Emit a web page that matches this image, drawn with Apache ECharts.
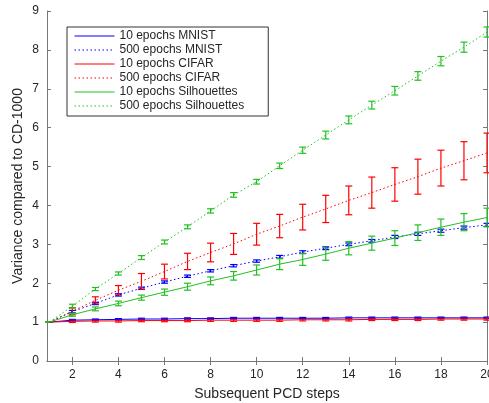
<!DOCTYPE html>
<html>
<head>
<meta charset="utf-8">
<script src="https://cdn.jsdelivr.net/npm/echarts@6/dist/echarts.min.js"></script>
<style>
  html, body { margin: 0; padding: 0; background: #fff; }
  #chart { width: 489px; height: 403px; }
</style>
</head>
<body>
<div id="chart"></div>
<script>
// PCD steps on the x axis
const steps = [1, 2, 3, 4, 5, 6, 7, 8, 9, 10, 11, 12, 13, 14, 15, 16, 17, 18, 19, 20];
const xTicks = [2, 4, 6, 8, 10, 12, 14, 16, 18, 20];

// means and error bar half-lengths
const mnist10 = [1.00, 1.05, 1.06, 1.07, 1.08, 1.08, 1.09, 1.09, 1.10, 1.10, 1.10, 1.10, 1.10, 1.11, 1.11, 1.11, 1.11, 1.11, 1.11, 1.11];
const mnist10Err = [0, 0.02, 0.02, 0.02, 0.02, 0.02, 0.02, 0.02, 0.02, 0.02, 0.02, 0.02, 0.02, 0.02, 0.02, 0.02, 0.02, 0.02, 0.02, 0.02];
const mnist500 = [1.00, 1.27, 1.48, 1.70, 1.87, 2.03, 2.18, 2.32, 2.45, 2.57, 2.68, 2.80, 2.90, 3.00, 3.09, 3.19, 3.27, 3.35, 3.43, 3.50];
const mnist500Err = [0, 0.03, 0.03, 0.03, 0.03, 0.03, 0.03, 0.03, 0.03, 0.03, 0.035, 0.035, 0.035, 0.035, 0.035, 0.04, 0.04, 0.04, 0.04, 0.04];
const cifar10 = [1.00, 1.02, 1.03, 1.03, 1.04, 1.04, 1.04, 1.05, 1.05, 1.05, 1.05, 1.06, 1.06, 1.06, 1.07, 1.07, 1.07, 1.08, 1.08, 1.08];
const cifar10Err = [0, 0.03, 0.03, 0.03, 0.03, 0.03, 0.03, 0.03, 0.03, 0.03, 0.03, 0.03, 0.03, 0.03, 0.03, 0.03, 0.03, 0.03, 0.03, 0.03];
const cifar500 = [1.00, 1.28, 1.56, 1.82, 2.05, 2.30, 2.56, 2.79, 3.01, 3.26, 3.47, 3.70, 3.91, 4.13, 4.33, 4.54, 4.74, 4.96, 5.15, 5.35];
const cifar500Err = [0, 0.09, 0.09, 0.12, 0.2, 0.19, 0.21, 0.24, 0.27, 0.28, 0.3, 0.33, 0.35, 0.37, 0.4, 0.43, 0.45, 0.46, 0.49, 0.51];
const silh10 = [1.00, 1.19, 1.34, 1.48, 1.63, 1.77, 1.91, 2.06, 2.19, 2.34, 2.49, 2.61, 2.75, 2.90, 3.03, 3.16, 3.30, 3.44, 3.57, 3.69];
const silh10Err = [0, 0.04, 0.05, 0.06, 0.065, 0.08, 0.09, 0.1, 0.11, 0.13, 0.14, 0.15, 0.16, 0.17, 0.18, 0.19, 0.2, 0.21, 0.22, 0.24];
const silh500 = [1.00, 1.41, 1.85, 2.25, 2.66, 3.06, 3.45, 3.86, 4.27, 4.61, 5.02, 5.42, 5.81, 6.20, 6.58, 6.95, 7.33, 7.71, 8.07, 8.46];
const silh500Err = [0, 0.05, 0.04, 0.04, 0.05, 0.05, 0.05, 0.055, 0.06, 0.06, 0.07, 0.08, 0.1, 0.1, 0.1, 0.11, 0.11, 0.12, 0.13, 0.13];

const names = ["10 epochs MNIST", "500 epochs MNIST", "10 epochs CIFAR", "500 epochs CIFAR", "10 epochs Silhouettes", "500 epochs Silhouettes"];

const BLUE = "#0000ff", RED = "#ff0000", GREEN = "#22c022";
const AXIS = "#777", TEXT = "#262626";

function lineSeries(name, vals, color, dotted) {
    return {
        name: name,
        type: "line",
        data: steps.map((s, i) => [s, vals[i]]),
        symbol: "none",
        lineStyle: { color: color, width: 1, type: dotted ? [1.5, 2.5] : "solid" },
        itemStyle: { color: color },
        animation: false
    };
}

// error bars: vertical stem plus caps, drawn through the axes
function errSeries(name, vals, errs, color) {
    return {
        name: name + " err",
        type: "custom",
        data: steps.map((s, i) => [s, vals[i], errs[i]]),
        renderItem: function (params, api) {
            const x = api.value(0), y = api.value(1), e = api.value(2);
            const top = api.coord([x, y + e]);
            const bot = api.coord([x, y - e]);
            const w = 3.5;
            const st = { stroke: color, lineWidth: 1.2 };
            return {
                type: "group",
                children: [
                    { type: "line", shape: { x1: top[0], y1: top[1], x2: bot[0], y2: bot[1] }, style: st },
                    { type: "line", shape: { x1: top[0] - w, y1: top[1], x2: top[0] + w, y2: top[1] }, style: st },
                    { type: "line", shape: { x1: bot[0] - w, y1: bot[1], x2: bot[0] + w, y2: bot[1] }, style: st }
                ]
            };
        },
        animation: false
    };
}

const chart = echarts.init(document.getElementById("chart"));
const option = {
    backgroundColor: "#fff",
    textStyle: { fontFamily: "Liberation Sans, Arial, sans-serif" },
    grid: { left: 47, right: 2, top: 11, bottom: 42, outerBoundsMode: "none" },
    legend: {
        data: names,
        orient: "vertical",
        left: 67,
        top: 27,
        itemWidth: 40,
        itemHeight: 14,
        itemGap: 2,
        padding: [3, 24, 4, 7],
        borderColor: "#333",
        borderWidth: 1,
        backgroundColor: "#fff",
        itemStyle: { opacity: 0 },
        lineStyle: { width: 1 },
        textStyle: { fontSize: 12, color: TEXT },
        selectedMode: false
    },
    xAxis: [
        {
            type: "value",
            min: 0.9,
            max: 20,
            name: "Subsequent PCD steps",
            nameLocation: "middle",
            nameGap: 26,
            nameTextStyle: { fontSize: 14, color: TEXT },
            axisLine: { show: true, lineStyle: { color: AXIS } },
            axisTick: { show: true, inside: true, length: 4, customValues: xTicks, lineStyle: { color: AXIS } },
            axisLabel: { customValues: xTicks, fontSize: 12, color: TEXT, margin: 8 },
            splitLine: { show: false }
        },
        {
            type: "value",
            position: "top",
            min: 0.9,
            max: 20,
            axisLine: { show: true, lineStyle: { color: AXIS } },
            axisTick: { show: true, inside: true, length: 4, customValues: xTicks, lineStyle: { color: AXIS } },
            axisLabel: { show: false },
            splitLine: { show: false }
        }
    ],
    yAxis: [
        {
            type: "value",
            min: 0,
            max: 9,
            interval: 1,
            name: "Variance compared to CD-1000",
            nameLocation: "middle",
            nameGap: 22,
            nameMoveOverlap: false,
            nameTextStyle: { fontSize: 14, color: TEXT },
            axisLine: { show: true, lineStyle: { color: AXIS } },
            axisTick: { show: true, inside: true, length: 4, lineStyle: { color: AXIS } },
            axisLabel: { fontSize: 12, color: TEXT, margin: 8 },
            splitLine: { show: false }
        },
        {
            type: "value",
            position: "right",
            min: 0,
            max: 9,
            interval: 1,
            axisLine: { show: true, lineStyle: { color: AXIS } },
            axisTick: { show: true, inside: true, length: 4, lineStyle: { color: AXIS } },
            axisLabel: { show: false },
            splitLine: { show: false }
        }
    ],
    series: [
        lineSeries(names[0], mnist10, BLUE, false),
        errSeries(names[0], mnist10, mnist10Err, BLUE),
        lineSeries(names[1], mnist500, BLUE, true),
        errSeries(names[1], mnist500, mnist500Err, BLUE),
        lineSeries(names[2], cifar10, RED, false),
        errSeries(names[2], cifar10, cifar10Err, RED),
        lineSeries(names[3], cifar500, RED, true),
        errSeries(names[3], cifar500, cifar500Err, RED),
        lineSeries(names[4], silh10, GREEN, false),
        errSeries(names[4], silh10, silh10Err, GREEN),
        lineSeries(names[5], silh500, GREEN, true),
        errSeries(names[5], silh500, silh500Err, GREEN)
    ]
};
chart.setOption(option);
</script>
</body>
</html>
